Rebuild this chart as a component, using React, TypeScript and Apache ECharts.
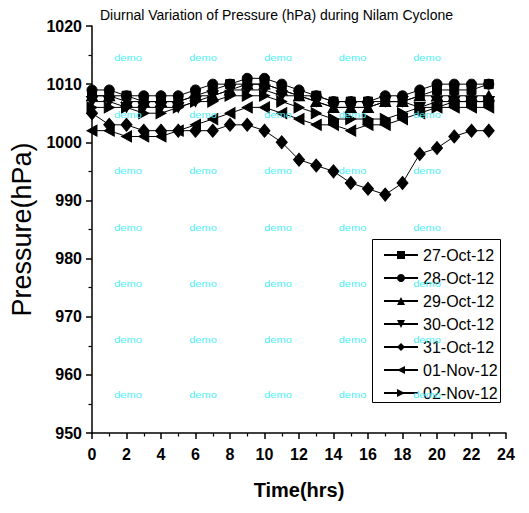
import React, { useEffect, useRef } from "react";
import * as echarts from "echarts";

const hours = [0, 1, 2, 3, 4, 5, 6, 7, 8, 9, 10, 11, 12, 13, 14, 15, 16, 17, 18, 19, 20, 21, 22, 23];

const oct27 = [1008, 1008, 1008, 1007, 1007, 1007, 1008, 1009, 1010, 1010, 1010, 1009, 1008, 1008, 1007, 1007, 1007, 1007, 1007, 1008, 1009, 1009, 1009, 1010];
const oct28 = [1009, 1009, 1008, 1008, 1008, 1008, 1009, 1010, 1010, 1011, 1011, 1010, 1009, 1008, 1007, 1007, 1007, 1008, 1008, 1009, 1010, 1010, 1010, 1010];
const oct29 = [1008, 1008, 1007, 1007, 1007, 1007, 1008, 1008, 1009, 1010, 1010, 1009, 1008, 1007, 1006, 1006, 1006, 1007, 1007, 1008, 1008, 1008, 1008, 1008];
const oct30 = [1007, 1007, 1006, 1006, 1006, 1006, 1007, 1008, 1009, 1009, 1009, 1008, 1008, 1007, 1006, 1006, 1006, 1007, 1007, 1006, 1007, 1007, 1007, 1007];
const oct31 = [1005, 1003, 1003, 1002, 1002, 1002, 1002, 1002, 1003, 1003, 1002, 1000, 997, 996, 995, 993, 992, 991, 993, 998, 999, 1001, 1002, 1002];
const nov01 = [1002, 1002, 1001, 1001, 1001, 1002, 1003, 1004, 1005, 1006, 1006, 1005, 1004, 1003, 1003, 1002, 1003, 1003, 1004, 1005, 1006, 1006, 1006, 1006];
const nov02 = [1006, 1006, 1006, 1005, 1005, 1006, 1007, 1007, 1008, 1008, 1008, 1007, 1006, 1005, 1004, 1004, 1004, 1004, 1005, 1006, 1006, 1007, 1007, 1007];

const seriesNames = ["27-Oct-12", "28-Oct-12", "29-Oct-12", "30-Oct-12", "31-Oct-12", "01-Nov-12", "02-Nov-12"];
const seriesValues = [oct27, oct28, oct29, oct30, oct31, nov01, nov02];

const titleText = "Diurnal Variation of Pressure (hPa) during Nilam Cyclone";
const xAxisName = "Time(hrs)";
const yAxisName = "Pressure(hPa)";
const watermarkText = "demo";

const FONT = "'Liberation Sans', Arial, sans-serif";

const symbols = [
  "rect",
  "circle",
  "path://M5,0L10,10L0,10Z",
  "path://M0,0L10,0L5,10Z",
  "diamond",
  "path://M0,5L10,0L10,10Z",
  "path://M0,0L10,5L0,10Z",
];
const symbolSizes: any[] = [9, 10, [11, 10], [11, 10], [11, 13], [10, 11], [10, 11]];

export default function App() {
  const ref = useRef<HTMLDivElement>(null);

  useEffect(() => {
    if (!ref.current) return;
    const chart = echarts.init(ref.current, undefined, { renderer: "svg" });

    const wmCols = [128, 203, 278, 352.5, 427];
    const wmRows = [58, 114.5, 171, 227.5, 283.5, 339.5, 395];
    const decorations: any[] = [
      {
        type: "rect",
        z: 3,
        silent: true,
        shape: { x: 372.5, y: 239.5, width: 128, height: 163 },
        style: { fill: "#fff", stroke: "#000", lineWidth: 1 },
      },
    ];
    wmRows.forEach((ry) =>
      wmCols.forEach((cx) =>
        decorations.push({
          type: "text",
          x: cx,
          y: ry,
          scaleX: 1.3,
          z: 100,
          silent: true,
          style: {
            text: watermarkText,
            fill: "#4df0f7",
            font: `8.5px ${FONT}`,
            align: "center",
            verticalAlign: "middle",
          },
        })
      )
    );

    const label = (v: number) => String(v);

    const option: any = {
      animation: false,
      backgroundColor: "#ffffff",
      title: {
        text: titleText,
        left: 100,
        top: 8,
        padding: 0,
        textStyle: { fontFamily: FONT, fontSize: 14, fontWeight: "normal", color: "#000" },
      },
      grid: { left: 92, right: 23, top: 26, bottom: 80, containLabel: false },
      legend: {
        orient: "vertical",
        left: 373,
        top: 239,
        z: 10,
        padding: [8, 2, 4, 10],
        itemWidth: 34,
        itemHeight: 10,
        itemGap: 7,
        borderWidth: 0,
        data: seriesNames,
        textStyle: { fontFamily: FONT, fontSize: 16, color: "#000", lineHeight: 16, padding: [0, 0, 0, 0] },
      },
      xAxis: {
        type: "value",
        min: 0,
        max: 24,
        interval: 2,
        name: xAxisName,
        nameLocation: "middle",
        nameGap: 47,
        nameTextStyle: { fontFamily: FONT, fontSize: 20, fontWeight: "bold", color: "#000" },
        axisLine: { show: true, lineStyle: { color: "#000", width: 1.5 } },
        axisTick: { show: true, inside: false, length: 6, lineStyle: { color: "#000", width: 1.5 } },
        minorTick: { show: true, splitNumber: 2, length: 3.5, lineStyle: { color: "#000", width: 1.2 } },
        splitLine: { show: false },
        axisLabel: { margin: 13, fontFamily: FONT, fontSize: 16, fontWeight: "bold", color: "#000", formatter: label },
      },
      yAxis: {
        type: "value",
        min: 950,
        max: 1020,
        interval: 10,
        name: yAxisName,
        nameLocation: "middle",
        nameGap: 53,
        nameTextStyle: { fontFamily: FONT, fontSize: 27, color: "#000" },
        axisLine: { show: true, lineStyle: { color: "#000", width: 1.5 } },
        axisTick: { show: true, inside: false, length: 6, lineStyle: { color: "#000", width: 1.5 } },
        minorTick: { show: true, splitNumber: 2, length: 3.5, lineStyle: { color: "#000", width: 1.2 } },
        splitLine: { show: false },
        axisLabel: { margin: 10, fontFamily: FONT, fontSize: 16, fontWeight: "bold", color: "#000", formatter: label },
      },
      series: seriesNames.map((name, i) => ({
        name,
        type: "line",
        data: hours.map((h, j) => [h, seriesValues[i][j]]),
        symbol: symbols[i],
        symbolSize: symbolSizes[i],
        showSymbol: true,
        lineStyle: { color: "#000", width: 1 },
        itemStyle: { color: "#000", borderColor: "#000" },
        emphasis: { disabled: true },
      })),
      graphic: decorations,
    };

    chart.setOption(option);
    return () => chart.dispose();
  }, []);

  return <div ref={ref} style={{ width: 529, height: 513, margin: -8 }} />;
}
